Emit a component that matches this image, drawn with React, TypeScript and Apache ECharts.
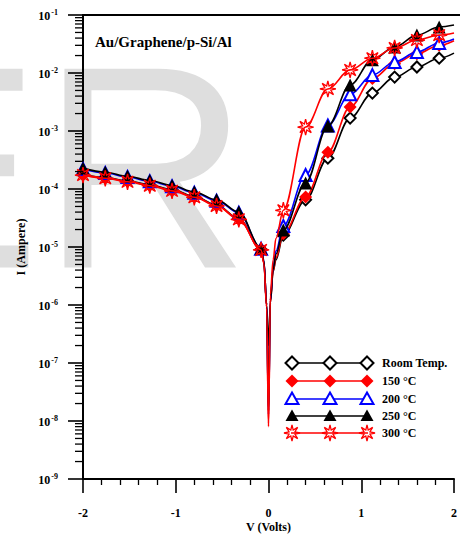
import React, { useEffect, useRef } from "react";
import * as echarts from "echarts";

// ---- data ----
const voltages = [-2, -1.76, -1.52, -1.28, -1.04, -0.8, -0.56, -0.32, -0.08, -0.05, -0.02, 0, 0.02, 0.05, 0.08, 0.16, 0.4, 0.64, 0.88, 1.12, 1.36, 1.6, 1.84, 2.0];
const markerVoltages = [-2, -1.76, -1.52, -1.28, -1.04, -0.8, -0.56, -0.32, -0.08, 0.16, 0.4, 0.64, 0.88, 1.12, 1.36, 1.6, 1.84];

const roomTemp = [1.8e-4, 1.58e-4, 1.38e-4, 1.18e-4, 9.7e-5, 7.5e-5, 5.3e-5, 3.1e-5, 9.1e-6, 5.4e-6, 1.0e-6, 2.0e-7, 1.1e-6, 3.8e-6, 6.0e-6, 1.6e-5, 6.5e-5, 3.4e-4, 1.67e-3, 4.5e-3, 8.5e-3, 1.27e-2, 1.8e-2, 2.2e-2];
const t150 = [1.77e-4, 1.56e-4, 1.36e-4, 1.16e-4, 9.5e-5, 7.35e-5, 5.2e-5, 3.05e-5, 9.0e-6, 5.5e-6, 1.0e-6, 9e-9, 1.1e-6, 3.9e-6, 6.5e-6, 1.7e-5, 7.3e-5, 4.3e-4, 2.6e-3, 8.0e-3, 1.45e-2, 2.15e-2, 3.0e-2, 3.6e-2];
const t200 = [2.22e-4, 1.89e-4, 1.61e-4, 1.36e-4, 1.12e-4, 8.6e-5, 6.3e-5, 3.9e-5, 9.3e-6, 5.7e-6, 1.0e-6, 1.3e-8, 1.2e-6, 4.5e-6, 8.5e-6, 2.3e-5, 1.74e-4, 1.25e-3, 4.3e-3, 9.2e-3, 1.55e-2, 2.3e-2, 3.3e-2, 3.85e-2];
const t250 = [2.29e-4, 1.95e-4, 1.66e-4, 1.4e-4, 1.15e-4, 8.9e-5, 6.5e-5, 4.0e-5, 9.5e-6, 5.8e-6, 1.0e-6, 1.5e-8, 1.2e-6, 4.2e-6, 7.5e-6, 1.96e-5, 1.27e-4, 1.22e-3, 6.2e-3, 1.7e-2, 2.8e-2, 4.5e-2, 6.2e-2, 6.7e-2];
const t300 = [1.74e-4, 1.53e-4, 1.33e-4, 1.14e-4, 9.3e-5, 7.2e-5, 5.1e-5, 3.0e-5, 8.9e-6, 5.2e-6, 9e-7, 8e-9, 1.5e-6, 6.0e-6, 1.4e-5, 4.3e-5, 1.17e-3, 5.3e-3, 1.13e-2, 1.8e-2, 2.7e-2, 3.7e-2, 4.5e-2, 4.9e-2];

const seriesNames = ["Room Temp.", "150 °C", "200 °C", "250 °C", "300 °C"];
const xTickLabels = ["-2", "-1", "0", "1", "2"];

const SERIF = "'Liberation Serif', 'Times New Roman', serif";

function starPts(cx: number, cy: number, ro: number, ri: number) {
  const pts: number[][] = [];
  for (let k = 0; k < 16; k++) {
    const a = (Math.PI * k) / 8 - Math.PI / 2;
    const r = k % 2 === 0 ? ro : ri;
    pts.push([cx + r * Math.cos(a), cy + r * Math.sin(a)]);
  }
  return pts;
}
const starPath =
  "path://M" + starPts(10, 10, 10, 4).map((p) => p.map((n) => n.toFixed(2)).join(",")).join("L") + "Z";

type Style = {
  color: string;
  symbol: string;
  size: number;
  fill: string;
  border: string;
  bw: number;
  shape: string;
};
const styles: Style[] = [
  { color: "#000000", symbol: "diamond", size: 11, fill: "#ffffff", border: "#000000", bw: 2, shape: "diamond" },
  { color: "#ff0000", symbol: "diamond", size: 13, fill: "#ff0000", border: "#ff0000", bw: 0, shape: "diamond" },
  { color: "#0000ff", symbol: "triangle", size: 12, fill: "#ffffff", border: "#0000ff", bw: 2, shape: "triangle" },
  { color: "#000000", symbol: "triangle", size: 13, fill: "#000000", border: "#000000", bw: 0, shape: "triangle" },
  { color: "#ff0000", symbol: starPath, size: 16, fill: "rgba(255,255,255,0)", border: "#ff0000", bw: 1.3, shape: "star" },
];
const seriesValues = [roomTemp, t150, t200, t250, t300];

function legendMarker(shape: string, x: number, y: number, st: Style) {
  let pts: number[][];
  if (shape === "diamond") pts = [[x, y - 6.5], [x + 6.5, y], [x, y + 6.5], [x - 6.5, y]];
  else if (shape === "triangle") pts = [[x, y - 6.5], [x + 6.5, y + 5], [x - 6.5, y + 5]];
  else pts = starPts(x, y, 8, 3.2);
  return {
    type: "polygon",
    shape: { points: pts },
    style: { fill: st.fill, stroke: st.bw > 0 ? st.border : st.fill, lineWidth: st.bw > 0 ? st.bw : 0 },
    z: 101,
  };
}

export default function App() {
  const ref = useRef<HTMLDivElement>(null);
  useEffect(() => {
    if (!ref.current) return;
    const chart = echarts.init(ref.current, null, { renderer: "svg" });

    const minorTicks: number[] = [];
    for (let d = -9; d <= -2; d++) for (let k = 2; k <= 9; k++) minorTicks.push(k * Math.pow(10, d));

    const series: any[] = [];
    seriesValues.forEach((vals, si) => {
      const st = styles[si];
      series.push({
        type: "line",
        name: seriesNames[si],
        data: voltages.map((v, i) => [v, vals[i]]),
        smooth: 0.35,
        smoothMonotone: "x",
        showSymbol: false,
        lineStyle: { color: st.color, width: 1.6 },
        z: 3 + si * 2,
      });
      series.push({
        type: "scatter",
        name: seriesNames[si] + " markers",
        data: voltages
          .map((v, i) => (markerVoltages.includes(v) ? [v, vals[i]] : null))
          .filter((d) => d !== null),
        symbol: st.symbol,
        symbolSize: st.size,
        itemStyle: { color: st.fill, borderColor: st.border, borderWidth: st.bw, opacity: 1 },
        z: 4 + si * 2,
      });
    });

    series.push({
      type: "custom",
      coordinateSystem: "cartesian2d",
      silent: true,
      clip: false,
      z: 20,
      data: minorTicks.map((v) => [-2, v]),
      renderItem: (params: any, api: any) => {
        const p = api.coord([api.value(0), api.value(1)]);
        return {
          type: "line",
          shape: { x1: p[0] - 8, y1: p[1], x2: p[0], y2: p[1] },
          style: { stroke: "#000", lineWidth: 1.3 },
        };
      },
    });

    const legendRowsY = [363, 381, 399, 416, 433];
    const legendMarkerX = [292, 330, 367];
    const legendEls: any[] = [];
    seriesNames.forEach((name, i) => {
      const st = styles[i];
      const y = legendRowsY[i];
      legendEls.push({
        type: "line",
        shape: { x1: 291, y1: y, x2: 368, y2: y },
        style: { stroke: st.color, lineWidth: 1.6 },
        z: 100,
      });
      legendMarkerX.forEach((x) => legendEls.push(legendMarker(st.shape, x, y, st)));
      legendEls.push({
        type: "text",
        x: 382,
        y: y,
        style: {
          text: name,
          fill: "#000",
          font: `bold 12px ${SERIF}`,
          verticalAlign: "middle",
          align: "left",
        },
        z: 101,
      });
    });

    const option: any = {
      animation: false,
      backgroundColor: "#ffffff",
      grid: { left: 83, right: 6, top: 15, bottom: 56, containLabel: false, outerBoundsMode: "none" },
      xAxis: [
        {
          type: "value",
          min: -2,
          max: 2,
          interval: 1,
          position: "bottom",
          name: "V (Volts)",
          nameLocation: "middle",
          nameGap: 42,
          nameMoveOverlap: false,
          nameTextStyle: { fontFamily: SERIF, fontWeight: "bold", fontSize: 12, color: "#000" },
          axisLine: { show: true, onZero: false, lineStyle: { color: "#000", width: 2 } },
          axisTick: { show: true, inside: false, length: 14, lineStyle: { color: "#000", width: 1.6 } },
          minorTick: { show: true, splitNumber: 5, length: 6, lineStyle: { color: "#000", width: 1.3 } },
          axisLabel: {
            margin: 28,
            fontFamily: SERIF,
            fontWeight: "bold",
            fontSize: 12,
            color: "#000",
            formatter: (v: number) => xTickLabels[Math.round(v) + 2] ?? String(v),
          },
          splitLine: { show: false },
        },
        {
          type: "value",
          min: -2,
          max: 2,
          position: "top",
          axisLine: { show: true, onZero: false, lineStyle: { color: "#000", width: 2 } },
          axisTick: { show: false },
          axisLabel: { show: false },
          splitLine: { show: false },
        },
      ],
      yAxis: {
        type: "log",
        logBase: 10,
        min: 1e-9,
        max: 1e-1,
        splitNumber: 8,
        name: "I (Ampere)",
        nameLocation: "middle",
        nameGap: 56,
        nameRotate: 90,
        nameMoveOverlap: false,
        nameTextStyle: { fontFamily: SERIF, fontWeight: "bold", fontSize: 12, color: "#000" },
        axisLine: { show: true, onZero: false, lineStyle: { color: "#000", width: 2 } },
        axisTick: { show: true, inside: false, length: 15, lineStyle: { color: "#000", width: 1.6 } },
        axisLabel: {
          margin: 25,
          color: "#000",
          formatter: (v: number) => `{b|10}{s|${Math.round(Math.log10(v))}}`,
          rich: {
            b: { fontFamily: SERIF, fontWeight: "bold", fontSize: 12, lineHeight: 14, verticalAlign: "bottom", color: "#000" },
            s: { fontFamily: SERIF, fontWeight: "bold", fontSize: 8, lineHeight: 8, verticalAlign: "top", color: "#000", padding: [0, 0, 0, 1] },
          },
        },
        splitLine: { show: false },
      },
      graphic: [
        {
          type: "text",
          x: -152,
          y: 167,
          z: -10,
          silent: true,
          style: {
            text: "ER",
            fill: "#dedede",
            font: "289px 'Liberation Sans', Arial, sans-serif",
            verticalAlign: "middle",
            align: "left",
          },
        },
        {
          type: "line",
          shape: { x1: 450, y1: 15, x2: 460, y2: 15 },
          style: { stroke: "#000", lineWidth: 2 },
          z: 50,
        },
        {
          type: "text",
          x: 95,
          y: 42,
          z: 100,
          style: {
            text: "Au/Graphene/p-Si/Al",
            fill: "#000",
            font: `bold 15px ${SERIF}`,
            verticalAlign: "middle",
            align: "left",
          },
        },
        ...legendEls,
      ],
      series,
    };
    chart.setOption(option);
    return () => chart.dispose();
  }, []);

  return (
    <div
      ref={ref}
      style={{ position: "fixed", left: 0, top: 0, width: 460, height: 535, background: "#fff" }}
    />
  );
}
